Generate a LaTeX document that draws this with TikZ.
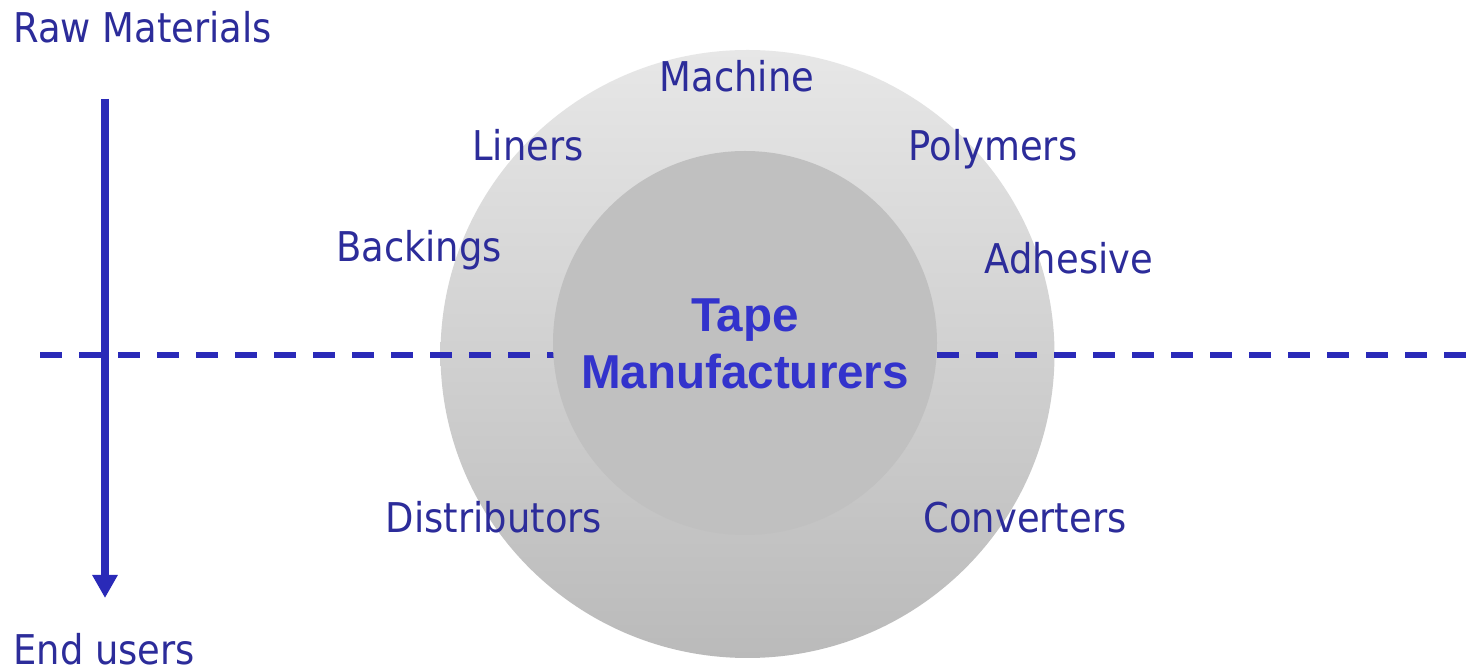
\documentclass[tikz,border=0pt]{standalone}
\usepackage{fontspec}
\usetikzlibrary{arrows.meta}
\newfontfamily\labfont[FakeStretch=0.9]{DejaVu Sans}
\newfontfamily\boldfont{Liberation Sans}
\definecolor{txtblue}{HTML}{2C2C9A}
\definecolor{boldblue}{HTML}{3333CC}
\definecolor{lineblue}{HTML}{2A2AB8}
\definecolor{outertop}{HTML}{E7E7E7}
\definecolor{outerbot}{HTML}{BABABA}
\definecolor{innerfill}{HTML}{C0C0C0}
\tikzset{
  lab/.style={inner sep=0pt, text=txtblue, font=\labfont\fontsize{20.5}{24}\selectfont, anchor=base},
  center lab/.style={lab, align=center, text=boldblue, font=\boldfont\bfseries\fontsize{23.8}{28.5}\selectfont, anchor=center},
  flowarrow/.style={draw=lineblue, line width=4pt, -{Triangle[width=12pt,length=11.5pt]}},
  divider/.style={draw=lineblue, line width=3pt, dash pattern=on 11pt off 8.5pt},
}
\begin{document}
\begin{tikzpicture}[x=0.5pt, y=-0.5pt]
\useasboundingbox (0,0) rectangle (1467,672);
\fill[white] (0,0) rectangle (1467,672);
% outer circle
\shade[top color=outertop, bottom color=outerbot] (747.5,354) ellipse[x radius=307, y radius=304];
% divider
\coordinate (dl) at (40,355);
\coordinate (dr) at (1467,355);
\draw[divider] (dl) -- (dr);
% inner circle
\fill[innerfill] (745,343) circle[radius=192];
% arrow
\coordinate (atop) at (105,99);
\coordinate (abot) at (105,598);
\draw[flowarrow] (atop) -- (abot);
% labels
\node[lab, anchor=base west] (raw) at (13,43) {Raw Materials};
\node[lab, anchor=base west] (end) at (13,665) {End users};
\node[lab] (machine) at (737,92) {Machine};
\node[lab] (liners) at (528,161) {Liners};
\node[lab] (polymers) at (993,161) {Polymers};
\node[lab] (backings) at (419,262) {Backings};
\node[lab] (adhesive) at (1069,274) {Adhesive};
\node[lab] (distributors) at (494,533) {Distributors};
\node[lab] (converters) at (1025,533) {Converters};
\node[center lab] (tm) at (745,344) {Tape\\Manufacturers};
\end{tikzpicture}
\end{document}
